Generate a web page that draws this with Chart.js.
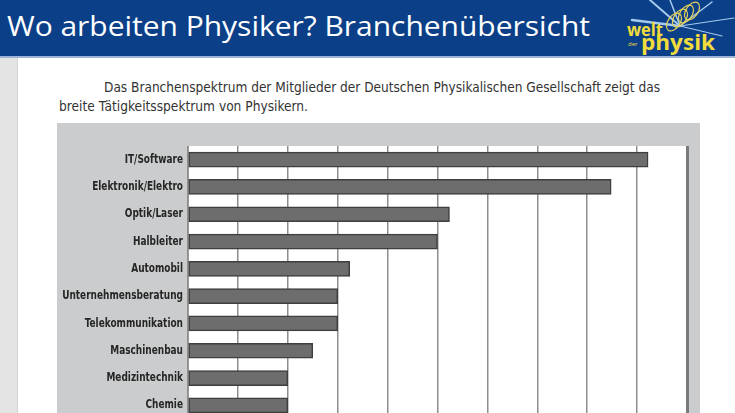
<!DOCTYPE html>
<html lang="de">
<head>
<meta charset="utf-8">
<script src="https://cdn.jsdelivr.net/npm/chart.js@4/dist/chart.umd.min.js"></script>
<style>
  html, body { margin: 0; padding: 0; }
  body { width: 735px; height: 413px; overflow: hidden; background: #fff; position: relative; font-family: "DejaVu Sans Condensed", "Liberation Sans", sans-serif; }
  #header { position: absolute; left: 0; top: 0; width: 735px; height: 56px; background: #0b3f87; }
  #header-line { position: absolute; left: 0; top: 56px; width: 735px; height: 2px; background: #9db4d4; }
  #title { position: absolute; left: 7px; top: 6px; color: #fff; font-family: "Open Sans", sans-serif; font-size: 28px; white-space: nowrap; transform-origin: 0 0; }
  #logo { position: absolute; left: 612px; top: 0; }
  #strip { position: absolute; left: 0; top: 58px; width: 17px; height: 355px; background: #e4e4e4; border-right: 1px solid #d4d4d4; }
  .sub { position: absolute; color: #333; font-size: 14px; line-height: 16px; white-space: nowrap; transform-origin: 0 0; }
  #panel { position: absolute; left: 57px; top: 123px; width: 643px; height: 290px; background: #cbcccd; }
  #wrap { position: absolute; left: 57px; top: 123px; width: 643px; height: 296px; }
</style>
</head>
<body>
<div id="header"></div>
<div id="header-line"></div>
<div id="title" data-w="583">Wo arbeiten Physiker? Branchenübersicht</div>
<svg id="logo" width="123" height="56" viewBox="0 0 123 56">
  <g stroke="#bfe3ff" stroke-linecap="round" opacity="0.85">
    <line x1="68" y1="26" x2="38" y2="0" stroke-width="2"/>
    <line x1="68" y1="26" x2="58" y2="0" stroke-width="1.5"/>
    <line x1="68" y1="26" x2="100" y2="2" stroke-width="1.5"/>
    <line x1="68" y1="26" x2="122" y2="18" stroke-width="1.2"/>
    <line x1="68" y1="26" x2="20" y2="20" stroke-width="2.5"/>
    <line x1="68" y1="26" x2="110" y2="36" stroke-width="1.2"/>
  </g>
  <g fill="none" stroke="#e8d25a" stroke-width="1.2">
    <ellipse cx="62" cy="22" rx="6" ry="10" transform="rotate(35 62 22)"/>
    <ellipse cx="68" cy="18" rx="6" ry="10" transform="rotate(35 68 18)"/>
    <ellipse cx="74" cy="14" rx="6" ry="10" transform="rotate(35 74 14)"/>
    <ellipse cx="80" cy="11" rx="6" ry="10" transform="rotate(35 80 11)"/>
  </g>
  <text x="15" y="36" fill="#f2dc3c" font-family="Open Sans, sans-serif" font-weight="bold" font-size="17" textLength="36" lengthAdjust="spacingAndGlyphs">welt</text>
  <text x="16" y="46" fill="#f2dc3c" font-family="Open Sans, sans-serif" font-size="6">der</text>
  <text x="29" y="50" fill="#f2dc3c" font-family="Open Sans, sans-serif" font-weight="bold" font-size="21" textLength="74" lengthAdjust="spacingAndGlyphs">physik</text>
</svg>
<div id="strip"></div>
<div class="sub" data-w="556" style="left:104px; top:79px;">Das Branchenspektrum der Mitglieder der Deutschen Physikalischen Gesellschaft zeigt das</div>
<div class="sub" data-w="249" style="left:59px; top:98px;">breite Tätigkeitsspektrum von Physikern.</div>
<div id="panel"></div>
<div id="wrap"><canvas id="myChart" width="643" height="296"></canvas></div>

<script>
const branchen = [
    'IT/Software',
    'Elektronik/Elektro',
    'Optik/Laser',
    'Halbleiter',
    'Automobil',
    'Unternehmensberatung',
    'Telekommunikation',
    'Maschinenbau',
    'Medizintechnik',
    'Chemie'
];
const anteile = [9.22, 8.48, 5.24, 5.0, 3.24, 3.0, 3.0, 2.5, 2.0, 2.0];
const xMin = 0;
const xMax = 10;
const xStep = 1;

// Texte auf Zielbreite bringen
document.querySelectorAll('[data-w]').forEach(el => {
    const target = parseFloat(el.dataset.w);
    const w = el.getBoundingClientRect().width;
    if (w > 0) el.style.transform = 'scaleX(' + (target / w) + ')';
});

const plotBg = {
    id: 'plotBg',
    beforeDraw(chart) {
        const { ctx, chartArea } = chart;
        ctx.save();
        ctx.fillStyle = '#ffffff';
        ctx.fillRect(chartArea.left, chartArea.top, chartArea.right - chartArea.left, chartArea.bottom - chartArea.top);
        ctx.restore();
    }
};

// schmale Beschriftung der Kategorien (Schrift horizontal gestaucht)
const narrowLabels = {
    id: 'narrowLabels',
    afterDraw(chart) {
        const { ctx, chartArea } = chart;
        const yScale = chart.scales.y;
        const squeeze = 0.83;
        ctx.save();
        ctx.fillStyle = '#262626';
        ctx.font = 'bold 12px "DejaVu Sans Condensed", sans-serif';
        ctx.textAlign = 'right';
        ctx.textBaseline = 'middle';
        const xRight = chartArea.left - 5;
        chart.data.labels.forEach((lab, i) => {
            const y = yScale.getPixelForValue(i);
            ctx.save();
            ctx.translate(xRight, y);
            ctx.scale(squeeze, 1);
            ctx.fillText(lab, 0, 0);
            ctx.restore();
        });
        ctx.restore();
    }
};

const myChartRef = document.getElementById('myChart').getContext('2d');
const myChart = new Chart(myChartRef, {
    type: 'bar',
    data: {
        labels: branchen,
        datasets: [
            {
                label: 'Anteil',
                data: anteile,
                backgroundColor: '#6d6d6d',
                borderColor: '#3f3f3f',
                borderWidth: 1.5,
                borderSkipped: false,
                barThickness: 15,
            },
        ],
    },
    options: {
        indexAxis: 'y',
        responsive: false,
        animation: false,
        layout: { padding: { top: 23, right: 13, bottom: 0, left: 0 } },
        plugins: {
            legend: { display: false },
            tooltip: { enabled: false },
        },
        scales: {
            x: {
                min: xMin,
                max: xMax,
                ticks: { display: false, stepSize: xStep },
                grid: {
                    drawTicks: false,
                    color: (c) => c.tick && c.tick.value === xMax ? '#7a7a7a' : '#8e8e8e',
                    lineWidth: (c) => c.tick && c.tick.value === xMax ? 3 : 1.5,
                },
                border: { display: false },
            },
            y: {
                afterFit(scale) { scale.width = 131; },
                ticks: { display: false },
                grid: { display: false, drawTicks: false },
                border: { display: true, color: '#9a9a9a', width: 1 },
            }
        }
    },
    plugins: [plotBg, narrowLabels]
});
</script>
</body>
</html>
